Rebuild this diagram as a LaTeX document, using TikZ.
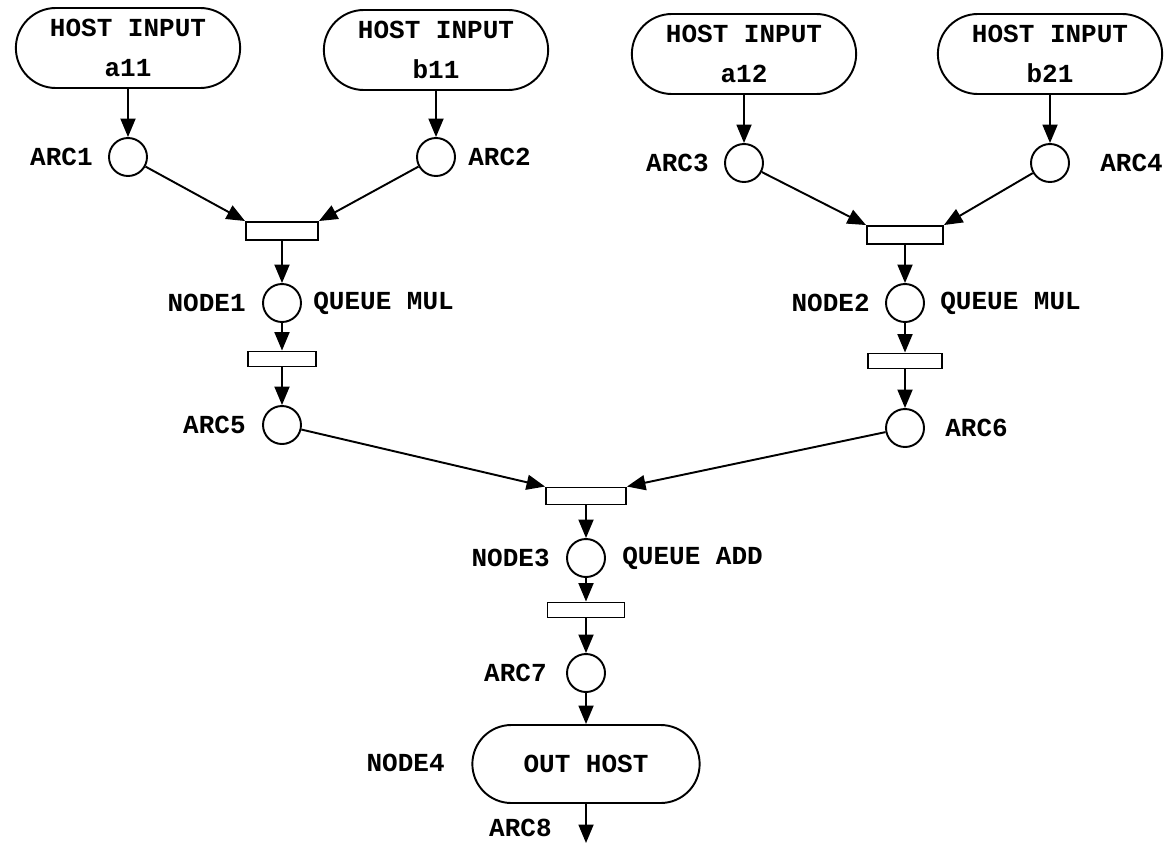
\documentclass[tikz,border=0pt]{standalone}
\usepackage{fontspec}
\setmonofont{Liberation Mono}
\usetikzlibrary{arrows.meta,shapes.misc}

\newlength{\du}
\setlength{\du}{0.02cm}
\definecolor{plotcolor}{rgb}{0.000000, 0.000000, 0.000000}
\newcommand{\plotfont}{\ttfamily\bfseries\fontsize{14.8}{23}\selectfont}

\tikzset{
  hostbox/.style={draw=plotcolor, line width=1.1pt, rounded rectangle, minimum width=236\du, minimum height=80\du, align=center, font=\plotfont},
  place/.style={draw=plotcolor, circle, line width=1.1pt, minimum size=38\du, inner sep=0pt},
  trans/.style={draw=plotcolor, rectangle, line width=1.1pt, minimum width=72\du, minimum height=18\du, inner sep=0pt},
  smalltrans/.style={trans, minimum width=68\du, minimum height=15\du},
  lbl/.style={inner sep=0pt, text=plotcolor, font=\plotfont},
  flow/.style={draw=plotcolor, line width=1.1pt, -{Triangle[length=0.37cm,width=0.3cm]}},
}

\begin{document}
\begin{tikzpicture}[yscale=-1]
\useasboundingbox (0,0) rectangle (1169\du,845\du);
% host inputs
\node[hostbox] (a11) at (128\du,48\du) {HOST INPUT\\a11};
\node[hostbox] (b11) at (436\du,50\du) {HOST INPUT\\b11};
\node[hostbox] (a12) at (744\du,54\du) {HOST INPUT\\a12};
\node[hostbox] (b21) at (1050\du,54\du) {HOST INPUT\\b21};
% input arcs
\node[place] (arc1) at (128\du,157\du) {};
\node[place] (arc2) at (436\du,157\du) {};
\node[place] (arc3) at (744\du,163\du) {};
\node[place] (arc4) at (1050\du,163\du) {};
\node[lbl, anchor=east] (arc1lbl) at (93\du,157\du) {ARC1};
\node[lbl, anchor=west] (arc2lbl) at (468\du,157\du) {ARC2};
\node[lbl, anchor=east] (arc3lbl) at (709\du,163\du) {ARC3};
\node[lbl, anchor=west] (arc4lbl) at (1100\du,163\du) {ARC4};
% multiply, left
\node[trans] (t1) at (282\du,231\du) {};
\node[place] (node1) at (282\du,303\du) {};
\node[lbl, anchor=east] (node1lbl) at (246\du,303\du) {NODE1};
\node[lbl, anchor=west] (queue1) at (313\du,303\du) {QUEUE MUL};
\node[smalltrans] (t1b) at (282\du,359\du) {};
\node[place] (arc5) at (282\du,425\du) {};
\node[lbl, anchor=east] (arc5lbl) at (246\du,425\du) {ARC5};
% multiply, right
\node[trans, minimum width=76\du] (t2) at (905\du,235\du) {};
\node[place] (node2) at (905\du,303\du) {};
\node[lbl, anchor=east] (node2lbl) at (870\du,303\du) {NODE2};
\node[lbl, anchor=west] (queue2) at (940\du,303\du) {QUEUE MUL};
\node[smalltrans, minimum width=74\du] (t2b) at (905\du,361\du) {};
\node[place] (arc6) at (905\du,428\du) {};
\node[lbl, anchor=west] (arc6lbl) at (945\du,428\du) {ARC6};
% add
\node[trans, minimum width=80\du, minimum height=17\du] (t3) at (586\du,496\du) {};
\node[place] (node3) at (586\du,558\du) {};
\node[lbl, anchor=east] (node3lbl) at (550\du,558\du) {NODE3};
\node[lbl, anchor=west] (queue3) at (622\du,558\du) {QUEUE ADD};
\node[smalltrans, minimum width=77\du] (t3b) at (586\du,610\du) {};
\node[place] (arc7) at (586\du,673\du) {};
\node[lbl, anchor=east] (arc7lbl) at (547\du,673\du) {ARC7};
% output
\node[hostbox, minimum width=239\du, minimum height=78\du] (outhost) at (586\du,764\du) {OUT HOST};
\node[lbl, anchor=east] (node4lbl) at (445\du,763\du) {NODE4};
\coordinate (arc8end) at (586\du,843\du);
\node[lbl, anchor=east] (arc8lbl) at (552\du,828\du) {ARC8};
% connectors
\draw[flow] (a11) -- (arc1);
\draw[flow] (b11) -- (arc2);
\draw[flow] (a12) -- (arc3);
\draw[flow] (b21) -- (arc4);
\draw[flow] (arc1) -- (t1.north west);
\draw[flow] (arc2) -- (t1.north east);
\draw[flow] (arc3) -- (t2.north west);
\draw[flow] (arc4) -- (t2.north east);
\draw[flow] (t1) -- (node1);
\draw[flow] (node1) -- (t1b);
\draw[flow] (t1b) -- (arc5);
\draw[flow] (t2) -- (node2);
\draw[flow] (node2) -- (t2b);
\draw[flow] (t2b) -- (arc6);
\draw[flow] (arc5) -- (t3.north west);
\draw[flow] (arc6) -- (t3.north east);
\draw[flow] (t3) -- (node3);
\draw[flow] (node3) -- (t3b);
\draw[flow] (t3b) -- (arc7);
\draw[flow] (arc7) -- (outhost);
\draw[flow] (outhost) -- (arc8end);
\end{tikzpicture}
\end{document}
